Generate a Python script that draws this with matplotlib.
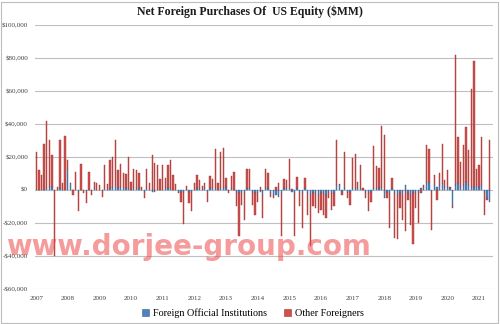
import matplotlib
matplotlib.use("Agg")
import matplotlib.pyplot as plt
from matplotlib.patches import Patch, Rectangle
from matplotlib.ticker import FuncFormatter, MultipleLocator
import numpy as np
import pandas as pd

# Monthly net purchases, $MM, Jan 2007 - May 2021
official = [
    0, 0, 0, 0, 1000, 2000, 2000, 0, 0, 1000, 0, 0,                      # 2007
    13000, 4000, 0, 0, -1000, 0, 0, -1000, 0, 0, 1000, 0,                # 2008
    0, 0, 1000, 0, 1000, 2000, 3000, 1000, 2000, 1000, 1000, 1000,       # 2009
    0, 1000, 1000, 1000, 0, -1000, 1000, 0, -1000, -1000, 0, 0,          # 2010
    0, 1000, 1000, 1000, 0, 0, -1000, -1000, -1000, 0, -1000, -1000,     # 2011
    0, 1000, 1000, 0, 1000, -1000, 1000, 1000, 1000, 0, 1000, 1000,      # 2012
    2000, 0, 1000, 0, -1000, -2000, -1000, -2000, 1000, 1000, -1000, -2000,   # 2013
    -2000, -1000, -3000, 1000, 1000, -2000, -3000, -3000, -4000, -2000, 1000, 1000,  # 2014
    1000, -1000, -2000, 1000, -1000, -2000, 1000, -2000, -3000, -2000, -2000, -3000,  # 2015
    -2000, -2000, -3000, -1000, -2000, -2000, 3000, 3000, -1000, 1000, -1000, -1000,  # 2016
    1000, 1000, 1000, 1000, 0, -1000, -2000, -1000, 1000, 1000, 1000, 2000,   # 2017
    -5000, -1000, -2000, 1000, -2000, -3000, -2000, -3000, 3000, -2000, -3000, -2000,  # 2018
    -1000, -2000, 1000, 2000, 4000, 5000, -1000, 3000, 2000, 3000, 4000, 2000,  # 2019
    2000, 1000, -10000, 3000, 4000, 2000, 3000, 5000, 3000, 2000, 2000, 3000,   # 2020
    2000, 3000, -1000, -5000, -7000,                                         # 2021
]
other = [
    23000, 12000, 9000, 28000, 41000, 28000, 19000, -40000, 2000, 29000, 4000, 33000,   # 2007
    5000, 500, -3000, 11000, -12000, 15500, -2000, -7000, 11000, -3000, 4000, 4000,     # 2008
    3000, -4000, 14000, 3600, 17000, 18000, 27000, 11000, 14000, 9000, 8500, 19000,     # 2009
    5000, 12000, 11000, 9000, 2000, -4000, 12000, 4400, 21000, 16600, 15000, 6400,      # 2010
    15400, 6400, 14400, 17400, 9000, 3400, -1000, -6000, -19600, 2400, -7000, -12000,   # 2011
    4000, 8000, 5000, 2400, 3000, -6000, 7600, 5400, 24000, 4400, 22000, 24600,         # 2012
    5000, -2000, 7400, 10600, -9000, -26000, -8000, -16000, 12000, 11600, -8000, -13000,  # 2013
    -5000, 2000, -14000, 11600, 9400, -2000, -2000, 2000, 4000, -26000, 5600, 4800,     # 2014
    17600, 400, -26000, 7000, -9000, -21000, 6000, -13000, -31000, -8000, -9000, -11000,  # 2015
    -10000, -13000, -14000, -4000, -10000, -8000, 27400, 500, -2000, 22000, -4000, -8000,  # 2016
    18600, 20800, 4000, 14000, 1000, -4000, -11000, -6000, 25600, 13400, 12400, 36600,  # 2017
    33600, -4000, -21000, 6000, -27000, -27000, -9000, -15000, -25000, -4000, -18000, -31000,  # 2018
    -10000, -18000, -2000, 1000, 23000, 20000, -23000, 6000, -6000, 7000, 24000, 4000,  # 2019
    10000, 1000, -1000, 79000, 28000, 15000, 24000, 33000, 21000, 59000, 76000, 10000,  # 2020
    13000, 29000, -14000, -1000, 30000,                                                 # 2021
]
series_names = ["Foreign Official Institutions", "Other Foreigners"]
year_labels = [str(y) for y in range(2007, 2022)]

months = pd.date_range("2007-01-01", periods=len(other), freq="MS")
official = np.array(official, dtype=float)
other = np.array(other, dtype=float)

BLUE = "#4F81BD"
BLUE_EDGE = "#3A6296"
RED = "#D0504D"
RED_EDGE = "#9C3330"
SERIF = ["Liberation Serif", "DejaVu Serif"]

fig = plt.figure(figsize=(5.0, 3.24), dpi=100)
ax = fig.add_axes([0.07, 0.108, 0.916, 0.815])

# Excel-style stacking: positives pile up from zero, negatives pile down
width = 15
ax.bar(months, official, width=width, color=BLUE,
       edgecolor=BLUE_EDGE, linewidth=0.3, zorder=3)
pos_base = np.where(official > 0, official, 0)
neg_base = np.where(official < 0, official, 0)
other_bottom = np.where(other >= 0, pos_base, neg_base)
ax.bar(months, other, width=width, bottom=other_bottom, color=RED,
       edgecolor=RED_EDGE, linewidth=0.3, zorder=3)

ax.set_ylim(-60000, 100000)
ax.yaxis.set_major_locator(MultipleLocator(20000))


def money(v, _):
    v = int(round(v))
    if v < 0:
        return "-${:,}".format(-v)
    return "${:,}".format(v)


ax.yaxis.set_major_formatter(FuncFormatter(money))
ax.grid(axis="y", color="#BFBFBF", linewidth=0.8, zorder=0)
ax.set_axisbelow(True)

ax.set_xlim(pd.Timestamp("2006-12-18"), pd.Timestamp("2021-06-10"))
ax.set_xticks([pd.Timestamp(f"{y}-01-01") for y in year_labels])
ax.set_xticklabels(year_labels)

for s in ax.spines.values():
    s.set_visible(False)
ax.tick_params(axis="both", length=0, labelsize=5, labelcolor="#404040")
ax.tick_params(axis="x", pad=5)
ax.tick_params(axis="y", pad=5)
for lab in ax.get_xticklabels() + ax.get_yticklabels():
    lab.set_family(SERIF)

fig.text(0.5, 0.965, "Net Foreign Purchases Of  US Equity ($MM)",
         ha="center", va="center", fontsize=8.5, fontweight="bold",
         family=SERIF, color="#1a1a1a")

handles = [Patch(facecolor=BLUE, edgecolor=BLUE_EDGE, linewidth=0.4),
           Patch(facecolor=RED, edgecolor=RED_EDGE, linewidth=0.4)]
fig.legend(handles, series_names, loc="center", bbox_to_anchor=(0.506, 0.034),
           ncol=2, frameon=False, handlelength=0.7, handleheight=0.7,
           handletextpad=0.4, columnspacing=1.6,
           prop={"family": SERIF, "size": 7.3})

fig.text(0.012, 0.238, "www.dorjee-group.com", ha="left", va="center",
         fontsize=20, fontweight="bold", family="DejaVu Sans",
         color="#EE4A4C", alpha=0.55, zorder=10)

fig.add_artist(Rectangle((0.002, 0.004), 0.994, 0.99, transform=fig.transFigure,
                         fill=False, edgecolor="#BDBDBD", linewidth=0.8))

fig.savefig("out.png", dpi=100)
